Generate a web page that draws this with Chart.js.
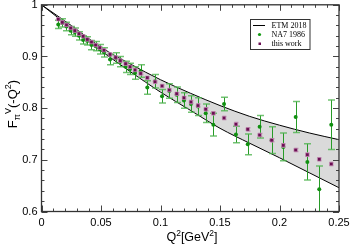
<!DOCTYPE html>
<html><head><meta charset="utf-8">
<script src="https://cdn.jsdelivr.net/npm/chart.js@4/dist/chart.umd.min.js"></script>
<style>html,body{margin:0;padding:0;background:#fff}canvas{display:block}</style>
</head><body>
<canvas id="c" width="352" height="245"></canvas>
<script>
// ---- data ----
const q2Work = [0.0141,0.0175,0.021,0.0245,0.028,0.0315,0.035,0.0385,0.042,0.0455,0.049,0.0525,0.0576,0.0623,0.0662,0.0707,0.0744,0.0786,0.0833,0.0889,0.0954,0.1013,0.1074,0.1136,0.1197,0.1256,0.1315,0.1380,0.1444,0.1534,0.1634,0.1733,0.1833,0.1934,0.2032,0.2136,0.2234,0.2334,0.2435];
const fWork  = [0.972,0.966,0.961,0.955,0.950,0.944,0.939,0.933,0.928,0.922,0.917,0.912,0.904,0.898,0.892,0.886,0.880,0.874,0.867,0.859,0.851,0.843,0.835,0.828,0.820,0.812,0.805,0.798,0.790,0.781,0.769,0.759,0.748,0.738,0.728,0.719,0.710,0.701,0.692];
const errWork = [0.002,0.002,0.002,0.002,0.002,0.002,0.002,0.002,0.002,0.002,0.002,0.002,0.002,0.002,0.002,0.002,0.002,0.002,0.002,0.002,0.002,0.002,0.002,0.002,0.002,0.003,0.003,0.003,0.003,0.003,0.003,0.003,0.003,0.003,0.003,0.003,0.003,0.003,0.003];

const q2NA7 = [0.0141,0.0175,0.021,0.0245,0.028,0.0315,0.035,0.0385,0.042,0.0455,0.049,0.0525,0.0576,0.0623,0.0662,0.0707,0.0744,0.0786,0.0833,0.0889,0.0954,0.1013,0.1074,0.1136,0.1197,0.1256,0.1315,0.1380,0.1444,0.1534,0.1634,0.1733,0.1833,0.1934,0.2032,0.2136,0.2234,0.2334,0.2435];
const fNA7  = [0.962,0.965,0.958,0.950,0.947,0.940,0.932,0.930,0.922,0.920,0.914,0.908,0.894,0.897,0.890,0.880,0.876,0.868,0.872,0.840,0.852,0.823,0.833,0.826,0.815,0.808,0.803,0.790,0.768,0.808,0.749,0.730,0.764,0.738,0.725,0.783,0.696,0.643,0.768];
const errNA7 = [0.008,0.008,0.008,0.008,0.008,0.008,0.008,0.008,0.009,0.009,0.009,0.009,0.010,0.010,0.010,0.011,0.011,0.012,0.012,0.013,0.013,0.013,0.014,0.015,0.015,0.016,0.017,0.018,0.022,0.013,0.016,0.020,0.022,0.026,0.027,0.030,0.035,0.045,0.048];

const q2Band    = [0,0.025,0.05,0.075,0.1,0.125,0.15,0.175,0.2,0.225,0.25];
const bandUpper = [1.0,0.960,0.918,0.885,0.855,0.829,0.805,0.784,0.767,0.752,0.739];
const bandLower = [1.0,0.955,0.911,0.870,0.831,0.796,0.761,0.732,0.704,0.675,0.646];

const xTicks = [0,0.05,0.1,0.15,0.2,0.25];
const yTicks = [0.6,0.7,0.8,0.9,1];
const legendLabels = ['ETM 2018','NA7 1986','this work'];

const pts = (xs, ys) => xs.map((x, i) => ({x: x, y: ys[i]}));

function drawErr(chart, xs, ys, es, lineCol, capCol, capW) {
  const ctx = chart.ctx, sx = chart.scales.x, sy = chart.scales.y, a = chart.chartArea;
  ctx.save();
  ctx.beginPath(); ctx.rect(a.left, a.top, a.right - a.left, a.bottom - a.top); ctx.clip();
  for (let i = 0; i < xs.length; i++) {
    const px = Math.round(sx.getPixelForValue(xs[i])) + 0.5;
    const y1 = sy.getPixelForValue(ys[i] + es[i]);
    const y2 = sy.getPixelForValue(ys[i] - es[i]);
    ctx.strokeStyle = lineCol; ctx.lineWidth = 1;
    ctx.beginPath(); ctx.moveTo(px, y1); ctx.lineTo(px, y2); ctx.stroke();
    ctx.strokeStyle = capCol; ctx.lineWidth = 1.5;
    ctx.beginPath();
    ctx.moveTo(px - capW / 2, y1); ctx.lineTo(px + capW / 2, y1);
    ctx.moveTo(px - capW / 2, y2); ctx.lineTo(px + capW / 2, y2);
    ctx.stroke();
  }
  ctx.restore();
}

function drawRich(ctx, parts, cx, cy, rot) {
  ctx.save();
  ctx.translate(cx, cy); ctx.rotate(rot);
  let total = 0;
  const widths = parts.map(p => { ctx.font = p[1] + 'px "Liberation Sans", Arial, sans-serif'; const w = ctx.measureText(p[0]).width; total += w; return w; });
  let x = -total / 2;
  ctx.fillStyle = '#000'; ctx.textBaseline = 'alphabetic'; ctx.textAlign = 'left';
  parts.forEach((p, i) => { ctx.font = p[1] + 'px "Liberation Sans", Arial, sans-serif'; ctx.fillText(p[0], x, p[2]); x += widths[i]; });
  ctx.restore();
}

const deco = {
  id: 'deco',
  beforeDatasetDraw(chart, args) {
    if (args.index === 1) drawErr(chart, q2NA7, fNA7, errNA7, 'rgb(40,155,40)', 'rgba(80,180,80,0.8)', 7);
    if (args.index === 0) drawErr(chart, q2Work, fWork, errWork, 'rgba(170,110,150,0.7)', 'rgba(190,140,175,0.8)', 4);
  },
  afterDraw(chart) {
    const ctx = chart.ctx, a = chart.chartArea, sx = chart.scales.x, sy = chart.scales.y;
    ctx.save();
    ctx.strokeStyle = '#444'; ctx.lineWidth = 1;
    ctx.beginPath();
    for (let i = 0; i <= 25; i++) {
      const px = Math.round(sx.getPixelForValue(i / 100)) + 0.5;
      const len = i % 5 === 0 ? 6 : 3;
      ctx.moveTo(px, a.bottom); ctx.lineTo(px, a.bottom - len);
      ctx.moveTo(px, a.top); ctx.lineTo(px, a.top + len);
    }
    for (let j = 0; j <= 20; j++) {
      const py = Math.round(sy.getPixelForValue(0.6 + j * 0.02)) + 0.5;
      const len = j % 5 === 0 ? 6 : 3;
      ctx.moveTo(a.left, py); ctx.lineTo(a.left + len, py);
      ctx.moveTo(a.right, py); ctx.lineTo(a.right - len, py);
    }
    ctx.stroke();
    ctx.strokeStyle = '#333'; ctx.lineWidth = 1.3;
    ctx.strokeRect(a.left, a.top, a.right - a.left, a.bottom - a.top);
    // legend
    const lx = 250.5, ly = 19.5, lw = 59.5, lh = 30;
    ctx.fillStyle = '#fff'; ctx.fillRect(lx, ly, lw, lh);
    ctx.strokeStyle = '#333'; ctx.lineWidth = 1; ctx.strokeRect(lx, ly, lw, lh);
    ctx.font = '8px "Liberation Serif", "Times New Roman", serif';
    ctx.textBaseline = 'middle'; ctx.textAlign = 'left';
    const rows = [25.5, 34.5, 43.5];
    ctx.strokeStyle = '#000'; ctx.beginPath(); ctx.moveTo(253, rows[0]); ctx.lineTo(265, rows[0]); ctx.stroke();
    ctx.fillStyle = '#119911'; ctx.beginPath(); ctx.arc(259.5, rows[1], 1.6, 0, Math.PI * 2); ctx.fill();
    ctx.fillStyle = '#6a0d52'; ctx.fillRect(258.5, rows[2] - 1, 2.5, 2.5);
    ctx.fillStyle = '#000';
    legendLabels.forEach((t, i) => ctx.fillText(t, 271.5, rows[i] + 0.5));
    ctx.restore();
    drawRich(ctx, [['Q', 12.5, 0], ['2', 8.5, -5], ['[GeV', 12.5, 0], ['2', 8.5, -5], [']', 12.5, 0]], 192, 241, 0);
    drawRich(ctx, [['F', 13, 0], ['\u03c0', 9, 3], ['V', 9, -6], ['(-Q', 13, 0], ['2', 9, -6], [')', 13, 0]], 17, 104, -Math.PI / 2);
  }
};

new Chart(document.getElementById('c'), {
  type: 'scatter',
  data: {
    datasets: [
      { label: legendLabels[2], data: pts(q2Work, fWork), pointStyle: 'rect', pointRadius: 2.5, backgroundColor: '#6a0d52', borderColor: 'rgba(200,150,185,0.8)', borderWidth: 0.8, showLine: false },
      { label: legendLabels[1], data: pts(q2NA7, fNA7), pointStyle: 'circle', pointRadius: 2, backgroundColor: '#109010', borderWidth: 0, showLine: false },
      { label: legendLabels[0], data: pts(q2Band, bandUpper), showLine: true, borderColor: '#000', borderWidth: 1, pointRadius: 0, cubicInterpolationMode: 'monotone', fill: false },
      { label: 'lower', data: pts(q2Band, bandLower), showLine: true, borderColor: '#000', borderWidth: 1, pointRadius: 0, cubicInterpolationMode: 'monotone', fill: '-1', backgroundColor: 'rgb(218,218,218)' }
    ]
  },
  options: {
    responsive: false, animation: false, devicePixelRatio: 1,
    layout: { padding: { left: 0, right: 13, top: 4.6, bottom: 0 } },
    plugins: { legend: { display: false }, tooltip: { enabled: false }, filler: { drawTime: 'beforeDatasetsDraw' } },
    scales: {
      x: {
        type: 'linear', min: 0, max: 0.25,
        afterBuildTicks: s => { s.ticks = xTicks.map(v => ({ value: v })); },
        afterFit: s => { s.height = 33.5; s.paddingLeft = 0; s.paddingRight = 0; },
        grid: { display: false, drawTicks: false }, border: { display: false },
        ticks: { callback: v => String(v), color: '#000', padding: 5, maxRotation: 0, autoSkip: false, font: { family: '"Liberation Sans", Arial, sans-serif', size: 11 } }
      },
      y: {
        type: 'linear', min: 0.6, max: 1,
        afterBuildTicks: s => { s.ticks = yTicks.map(v => ({ value: v })); },
        afterFit: s => { s.width = 41.5; s.paddingTop = 0; s.paddingBottom = 0; },
        grid: { display: false, drawTicks: false }, border: { display: false },
        ticks: { callback: v => String(v), color: '#000', padding: 4, autoSkip: false, font: { family: '"Liberation Sans", Arial, sans-serif', size: 11 } }
      }
    }
  },
  plugins: [deco]
});
</script>
</body></html>
